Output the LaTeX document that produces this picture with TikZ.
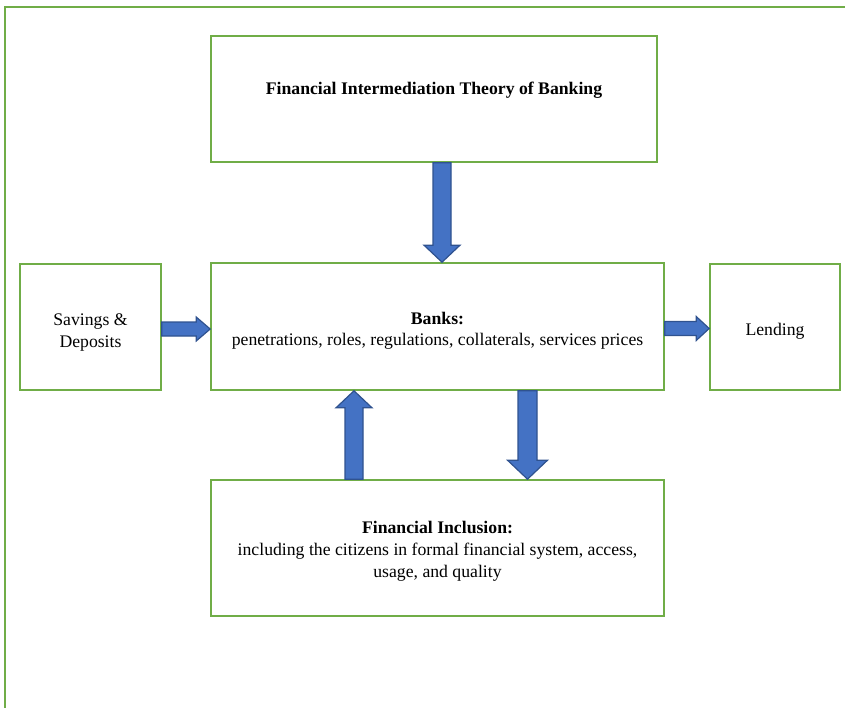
\documentclass[tikz,border=0pt]{standalone}
\usepackage{fontspec}
\setmainfont{Liberation Serif}
\usetikzlibrary{calc}
\definecolor{boxgreen}{HTML}{70AD47}
\definecolor{arrowblue}{HTML}{4472C4}
\definecolor{arrowedge}{HTML}{2F528F}
\begin{document}
\begin{tikzpicture}[x=1pt,y=-1pt,
  box/.style={draw=boxgreen,line width=1.6pt,fill=white,inner sep=0pt,
    align=center,font=\fontsize{17.7}{21.5}\selectfont},
  blockarrow/.style={draw=arrowedge,fill=arrowblue,line width=1.2pt,line join=miter}]
\useasboundingbox (0,0) rectangle (845,708);
% outer frame, running off the right and bottom edges
\draw[boxgreen,line width=1.8pt] (5,7) rectangle (900,760);

% boxes
\node[box,minimum width=446,minimum height=126] (top) at (434,99)
  {\textbf{Financial Intermediation Theory of Banking}\\\mbox{}};
\node[box,minimum width=453,minimum height=127] (banks) at (437.5,326.5)
  {\rule{0pt}{21pt}\textbf{Banks:}\\penetrations, roles, regulations, collaterals, services prices};
\node[box,minimum width=141,minimum height=126] (save) at (90.5,327)
  {\rule{0pt}{23pt}Savings \&\\Deposits};
\node[box,minimum width=130,minimum height=126] (lend) at (775,327)
  {\rule{0pt}{21pt}Lending};
\node[box,minimum width=453,minimum height=136,font=\fontsize{17.7}{22}\selectfont] (incl) at (437.5,548)
  {\rule{0pt}{19pt}\textbf{Financial Inclusion:}\\including the citizens in formal financial system, access,\\usage, and quality};

% top box down to banks
\coordinate (d1s) at ([xshift=8pt]top.south);
\coordinate (d1e) at (d1s |- banks.north);
\draw[blockarrow] ($(d1s)+(-9,0)$) -- ($(d1s)+(9,0)$) -- ($(d1e)+(9,-17)$)
  -- ($(d1e)+(18,-17)$) -- (d1e) -- ($(d1e)+(-18,-17)$) -- ($(d1e)+(-9,-17)$) -- cycle;

% savings into banks
\coordinate (r1s) at ([yshift=-2pt]save.east);
\coordinate (r1e) at (r1s -| banks.west);
\draw[blockarrow] ($(r1s)+(0,-7)$) -- ($(r1e)+(-14,-7)$) -- ($(r1e)+(-14,-12)$)
  -- (r1e) -- ($(r1e)+(-14,12)$) -- ($(r1e)+(-14,7)$) -- ($(r1s)+(0,7)$) -- cycle;

% banks out to lending
\coordinate (r2s) at ([yshift=-2pt]banks.east);
\coordinate (r2e) at (r2s -| lend.west);
\draw[blockarrow] ($(r2s)+(0,-7)$) -- ($(r2e)+(-13,-7)$) -- ($(r2e)+(-13,-12)$)
  -- (r2e) -- ($(r2e)+(-13,12)$) -- ($(r2e)+(-13,7)$) -- ($(r2s)+(0,7)$) -- cycle;

% inclusion up to banks
\coordinate (u1s) at ([xshift=-83.5pt]incl.north);
\coordinate (u1e) at (u1s |- banks.south);
\draw[blockarrow] ($(u1s)+(-9,0)$) -- ($(u1s)+(9,0)$) -- ($(u1e)+(9,17)$)
  -- ($(u1e)+(18,17)$) -- (u1e) -- ($(u1e)+(-18,17)$) -- ($(u1e)+(-9,17)$) -- cycle;

% banks down to inclusion
\coordinate (d2s) at ([xshift=90pt]banks.south);
\coordinate (d2e) at (d2s |- incl.north);
\draw[blockarrow] ($(d2s)+(-9.5,0)$) -- ($(d2s)+(9.5,0)$) -- ($(d2e)+(9.5,-19)$)
  -- ($(d2e)+(20,-19)$) -- (d2e) -- ($(d2e)+(-20,-19)$) -- ($(d2e)+(-9.5,-19)$) -- cycle;
\end{tikzpicture}
\end{document}
